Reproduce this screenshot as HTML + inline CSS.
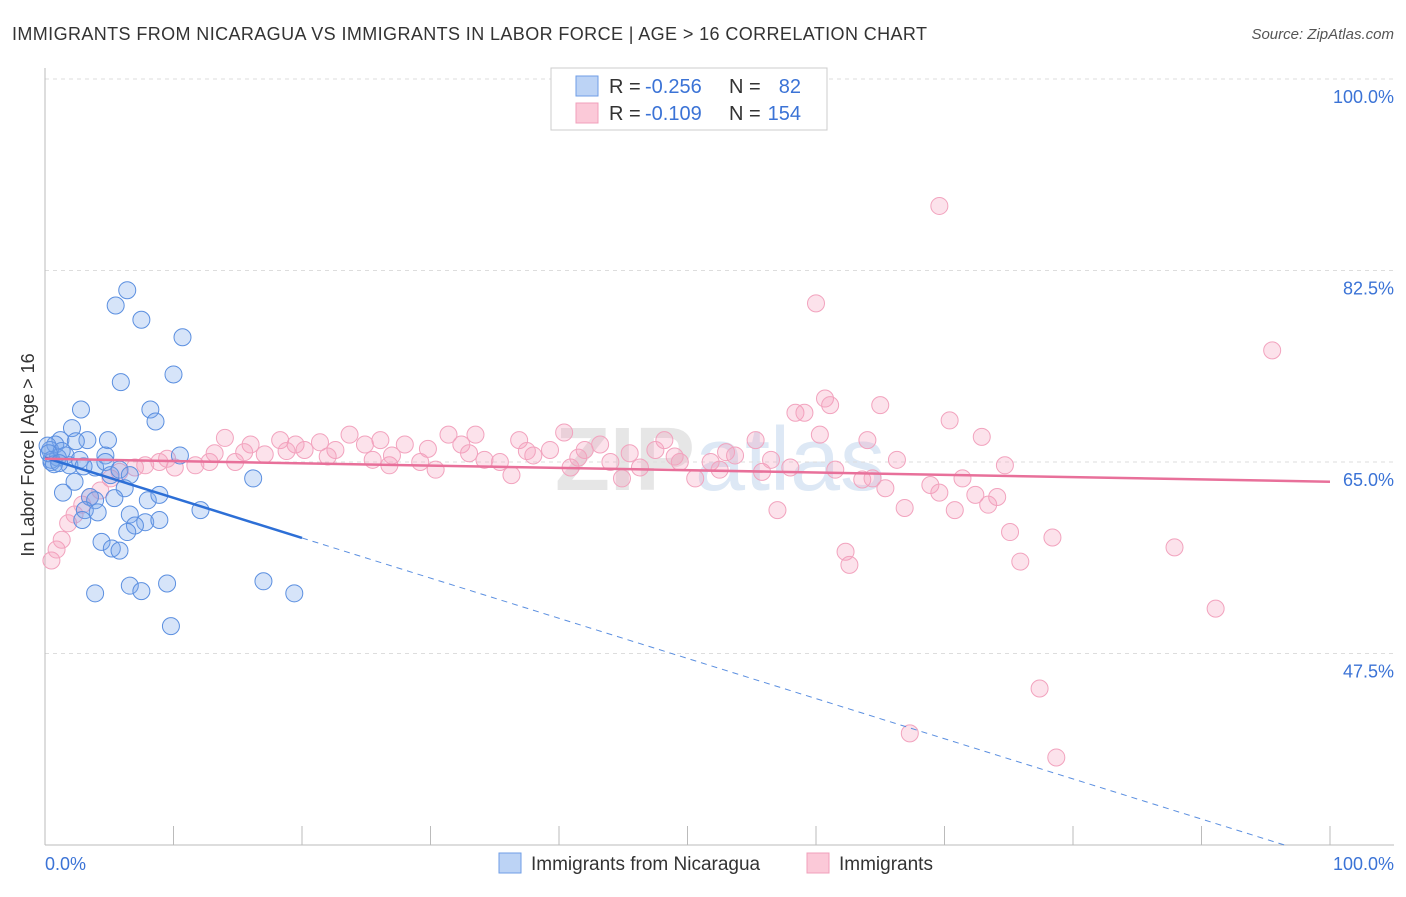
<!DOCTYPE html>
<html><head><meta charset="utf-8"><style>
body{margin:0;background:#fff;font-family:"Liberation Sans",sans-serif;}
svg text{font-family:"Liberation Sans",sans-serif;}
</style></head><body>
<svg id="chart" width="1406" height="892">
<text x="12" y="40" font-size="18" fill="#333" textLength="915">IMMIGRANTS FROM NICARAGUA VS IMMIGRANTS IN LABOR FORCE | AGE &gt; 16 CORRELATION CHART</text>
<text x="1394" y="39" font-size="15" fill="#555" text-anchor="end" font-style="italic">Source: ZipAtlas.com</text>
<text x="720" y="490" font-size="90" fill="#e6e6e6" text-anchor="middle" font-weight="bold" font-family="Liberation Serif">ZIP<tspan fill="#dde8f5" font-family="Liberation Sans" font-weight="normal">atlas</tspan></text>
<g id="grid"></g>
<g id="axes"></g>
<g id="pts"></g>
<g id="trends"></g>
<text transform="translate(34,455) rotate(-90)" font-size="18" fill="#333" text-anchor="middle">In Labor Force | Age &gt; 16</text>
<text x="45" y="870" font-size="18" fill="#3b73d6">0.0%</text>
<text x="1394" y="870" font-size="18" fill="#3b73d6" text-anchor="end">100.0%</text>
<g>
<rect x="551" y="68" width="276" height="62" fill="#fff" stroke="#ccc"/>
<rect x="576" y="76" width="22" height="20" fill="#bcd3f5" stroke="#6f9ee6"/>
<rect x="576" y="103" width="22" height="20" fill="#fbc9d8" stroke="#f0a0bb"/>
<text x="609" y="93" font-size="20" fill="#333">R =</text>
<text x="645" y="93" font-size="20" fill="#3b73d6">-0.256</text>
<text x="729" y="93" font-size="20" fill="#333">N =</text>
<text x="801" y="93" font-size="20" fill="#3b73d6" text-anchor="end">82</text>
<text x="609" y="120" font-size="20" fill="#333">R =</text>
<text x="645" y="120" font-size="20" fill="#3b73d6">-0.109</text>
<text x="729" y="120" font-size="20" fill="#333">N =</text>
<text x="801" y="120" font-size="20" fill="#3b73d6" text-anchor="end">154</text>
</g>
<g>
<rect x="499" y="853" width="22" height="20" fill="#bcd3f5" stroke="#6f9ee6"/>
<text x="531" y="870" font-size="19" fill="#333">Immigrants from Nicaragua</text>
<rect x="807" y="853" width="22" height="20" fill="#fbc9d8" stroke="#f0a0bb"/>
<text x="839" y="870" font-size="19" fill="#333">Immigrants</text>
</g>
</svg>
<script>
const yTicks=[100,82.5,65,47.5];
const yTickLabels=["100.0%","82.5%","65.0%","47.5%"];
const xTicks=[0,10,20,30,40,50,60,70,80,90,100];
const blueX=[6.4,5.5,7.5,10.7,5.9,10.0,2.8,8.2,8.6,10.5,2.1,3.3,4.9,1.2,0.8,0.4,1.6,0.5,1.0,1.9,2.7,3.9,4.7,4.7,5.1,5.8,6.6,2.3,6.2,1.4,3.5,3.9,5.4,8.0,8.9,12.1,3.1,4.1,6.6,2.9,7.8,8.9,7.0,6.4,4.4,5.2,5.8,16.2,3.9,6.6,7.5,9.5,17.0,19.4,9.8,0.2,0.5,0.7,1.3,0.3,1.1,2.4,3.0];
const blueY=[80.7,79.3,78.0,76.4,72.3,73.0,69.8,69.8,68.7,65.6,68.1,67.0,67.0,67.0,66.6,66.1,65.6,65.0,65.4,64.7,65.2,64.5,65.6,65.0,63.8,64.3,63.8,63.2,62.6,62.2,61.8,61.5,61.7,61.5,62.0,60.6,60.6,60.4,60.2,59.7,59.5,59.7,59.2,58.6,57.7,57.1,56.9,63.5,53.0,53.7,53.2,53.9,54.1,53.0,50.0,66.5,65.2,64.8,66.0,65.8,64.9,66.9,64.6];
const pinkX=[0.5,0.9,1.3,1.8,2.3,2.9,3.5,4.3,5.1,5.8,7.0,7.8,8.9,10.1,11.7,12.8,14.0,14.8,16.0,17.1,18.3,19.5,20.2,21.4,22.6,23.7,24.9,26.1,26.8,28.0,29.2,30.4,31.4,32.4,33.5,34.2,35.4,36.3,36.9,38.0,39.3,40.4,40.9,42.0,43.2,44.0,44.9,46.3,47.5,48.2,49.4,50.6,51.8,52.5,53.7,55.3,55.8,57.0,58.0,60.0,60.3,60.7,61.1,61.5,62.3,62.6,63.6,64.0,64.4,65.0,65.4,66.3,66.9,68.9,69.6,70.4,70.8,71.4,72.4,72.9,73.4,74.1,74.7,75.1,75.9,77.4,78.4,78.7,67.3,87.9,91.1,95.5,58.4,59.1,69.6,9.5,13.2,18.8,22.0,25.5,29.8,33.0,37.5,41.5,45.5,49.0,53.0,56.5,15.5,27.0];
const pinkY=[56.0,57.0,57.9,59.4,60.2,61.1,61.8,62.4,63.5,64.1,64.5,64.7,65.0,64.5,64.7,65.0,67.2,65.0,66.6,65.7,67.0,66.6,66.1,66.8,66.1,67.5,66.6,67.0,64.7,66.6,65.0,64.3,67.5,66.6,67.5,65.2,65.0,63.8,67.0,65.6,66.1,67.7,64.5,66.1,66.6,65.0,63.5,64.5,66.1,67.0,65.0,63.5,65.0,64.3,65.6,67.0,64.1,60.6,64.5,79.5,67.5,70.8,70.2,64.3,56.8,55.6,63.4,67.0,63.5,70.2,62.6,65.2,60.8,62.9,88.4,68.8,60.6,63.5,62.0,67.3,61.1,61.8,64.7,58.6,55.9,44.3,58.1,38.0,40.2,57.2,51.6,75.2,69.5,69.5,62.2,65.3,65.8,66.0,65.5,65.2,66.2,65.8,66.0,65.4,65.8,65.5,65.9,65.2,65.9,65.6];
const blueTrend=[65.4,-0.367];
const pinkTrend=[65.3,-0.021];
const NS="http://www.w3.org/2000/svg";
const X=v=>45+v*12.85, Y=v=>79+(100-v)*10.943;
function mk(tag,attrs,parent){const e=document.createElementNS(NS,tag);for(const k in attrs)e.setAttribute(k,attrs[k]);parent.appendChild(e);return e;}
const grid=document.getElementById('grid'),axes=document.getElementById('axes'),pts=document.getElementById('pts'),tr=document.getElementById('trends');
yTicks.forEach((t,i)=>{
 const l=mk('line',{x1:45,x2:1394,y1:Y(t),y2:Y(t),stroke:'#ddd','stroke-dasharray':'4,4'},grid);
 
 
 const tx=mk('text',{x:1394,y:Y(t)+24,'font-size':18,fill:'#3b73d6','text-anchor':'end'},grid);
 tx.textContent=yTickLabels[i];
 
 
});
const ax=mk('line',{x1:45,x2:45,y1:68,y2:845,stroke:'#bbb'},axes);


const bx=mk('line',{x1:45,x2:1394,y1:845,y2:845,stroke:'#bbb'},axes);


xTicks.forEach(t=>{
 const l=mk('line',{x1:X(t),x2:X(t),y1:826,y2:845,stroke:'#bbb'},axes);
 
 
});
pinkX.forEach((v,i)=>{
 const c=mk('circle',{cx:X(v),cy:Y(pinkY[i]),r:8.5,fill:'rgba(244,160,188,0.3)',stroke:'#f2a3be','stroke-width':1},pts);
 
 
});
blueX.forEach((v,i)=>{
 const c=mk('circle',{cx:X(v),cy:Y(blueY[i]),r:8.5,fill:'rgba(120,165,235,0.3)',stroke:'#5b8fe0','stroke-width':1},pts);
 
 
});
const b1=mk('line',{x1:X(0),y1:Y(blueTrend[0]),x2:X(20),y2:Y(blueTrend[0]+blueTrend[1]*20),stroke:'#2d6fd6','stroke-width':2.5},tr);


const xe=(30-blueTrend[0])/blueTrend[1];
const b2=mk('line',{x1:X(20),y1:Y(blueTrend[0]+blueTrend[1]*20),x2:X(xe),y2:Y(30),stroke:'#5b8fe0','stroke-width':1,'stroke-dasharray':'6,5'},tr);


const p1=mk('line',{x1:X(0),y1:Y(pinkTrend[0]),x2:X(100),y2:Y(pinkTrend[0]+pinkTrend[1]*100),stroke:'#e8709a','stroke-width':2.5},tr);


</script>
</body></html>
